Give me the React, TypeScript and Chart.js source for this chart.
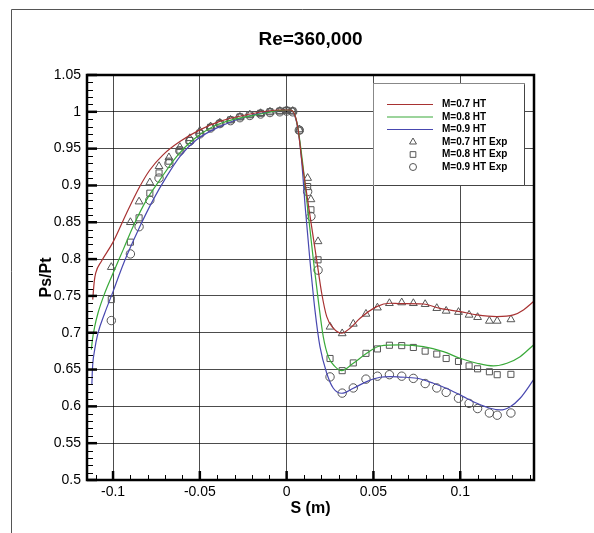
import React, { useEffect, useRef } from 'react';
import { Chart, registerables } from 'chart.js';

Chart.register(...registerables);

// ---- Data ----
const titleText = 'Re=360,000';
const xTicks = [-0.1, -0.05, 0, 0.05, 0.1];
const yTicks = [0.5, 0.55, 0.6, 0.65, 0.7, 0.75, 0.8, 0.85, 0.9, 0.95, 1.0, 1.05];

const ht07S = [-0.1117, -0.1108, -0.11, -0.1067, -0.1, -0.0923, -0.0846, -0.0788, -0.0712, -0.0615, -0.05, -0.0385, -0.023, -0.004, 0.002, 0.0045, 0.0065, 0.0087, 0.0115, 0.0144, 0.0173, 0.0202, 0.0231, 0.0269, 0.0317, 0.0365, 0.0423, 0.0519, 0.0596, 0.0654, 0.0788, 0.0884, 0.0999, 0.1096, 0.1211, 0.1307, 0.1364, 0.1422];
const ht07P = [0.745, 0.77, 0.781, 0.797, 0.823, 0.862, 0.8985, 0.921, 0.9416, 0.9596, 0.9755, 0.987, 0.996, 1.0025, 1.0025, 0.997, 0.978, 0.935, 0.89, 0.844, 0.799, 0.7536, 0.7218, 0.7061, 0.6993, 0.7061, 0.7197, 0.7355, 0.74, 0.7395, 0.739, 0.733, 0.7287, 0.7242, 0.7219, 0.7242, 0.731, 0.7423];

const ht08S = [-0.1125, -0.1119, -0.1106, -0.1087, -0.1048, -0.1, -0.0942, -0.0885, -0.0807, -0.073, -0.0634, -0.0539, -0.0423, -0.03, -0.015, -0.004, 0.002, 0.0045, 0.0065, 0.009, 0.0122, 0.0154, 0.0182, 0.0211, 0.024, 0.0279, 0.0317, 0.0384, 0.0461, 0.0538, 0.0654, 0.0788, 0.0903, 0.0999, 0.1096, 0.1191, 0.1269, 0.1345, 0.1422];
const ht08P = [0.677, 0.69, 0.708, 0.7265, 0.7537, 0.7808, 0.8125, 0.844, 0.8804, 0.9076, 0.9393, 0.962, 0.98, 0.99, 0.997, 1.002, 1.0025, 0.997, 0.978, 0.935, 0.867, 0.799, 0.7446, 0.6947, 0.6675, 0.654, 0.6485, 0.6585, 0.6721, 0.682, 0.6834, 0.6811, 0.6743, 0.6653, 0.6586, 0.6549, 0.6586, 0.6675, 0.6834];

const ht09S = [-0.1122, -0.1119, -0.1106, -0.1087, -0.1048, -0.1, -0.0961, -0.0923, -0.0846, -0.0769, -0.0692, -0.0615, -0.0519, -0.0385, -0.023, -0.004, 0.002, 0.0045, 0.0065, 0.0086, 0.0108, 0.0134, 0.0163, 0.0192, 0.0231, 0.0269, 0.0317, 0.0384, 0.0461, 0.0538, 0.0596, 0.0654, 0.075, 0.0845, 0.0942, 0.1018, 0.1096, 0.1172, 0.123, 0.1288, 0.1345, 0.1422];
const ht09P = [0.629, 0.6495, 0.6766, 0.6993, 0.7265, 0.7558, 0.7808, 0.8034, 0.844, 0.8804, 0.912, 0.9393, 0.962, 0.98, 0.9936, 1.0018, 1.0025, 0.996, 0.977, 0.935, 0.868, 0.799, 0.731, 0.681, 0.645, 0.6246, 0.6178, 0.6246, 0.6336, 0.6395, 0.6404, 0.6398, 0.6382, 0.6314, 0.6223, 0.6132, 0.6042, 0.5974, 0.5951, 0.5996, 0.611, 0.6359];

const expS = [-0.101, -0.09, -0.085, -0.0788, -0.0735, -0.0678, -0.0615, -0.0558, -0.05, -0.0438, -0.0385, -0.0323, -0.0269, -0.0212, -0.015, -0.0096, -0.0039, 0.0, 0.0035, 0.0073, 0.0121, 0.014, 0.0181, 0.025, 0.032, 0.0384, 0.0457, 0.0523, 0.0592, 0.0663, 0.073, 0.0798, 0.0865, 0.0919, 0.099, 0.1051, 0.11, 0.1168, 0.1213, 0.1292];
const exp07P = [0.789, 0.85, 0.878, 0.904, 0.926, 0.938, 0.952, 0.964, 0.974, 0.98, 0.985, 0.989, 0.993, 0.996, 0.998, 1.0, 1.001, 1.002, 1.001, 0.976, 0.91, 0.881, 0.824, 0.708, 0.699, 0.712, 0.7255, 0.734, 0.74, 0.741, 0.74, 0.7387, 0.7333, 0.7296, 0.728, 0.7242, 0.721, 0.716, 0.716, 0.718];
const exp08P = [0.745, 0.823, 0.856, 0.8895, 0.917, 0.933, 0.948, 0.961, 0.971, 0.979, 0.984, 0.989, 0.993, 0.996, 0.998, 1.0, 1.001, 1.002, 1.001, 0.975, 0.8985, 0.867, 0.799, 0.665, 0.6485, 0.659, 0.672, 0.678, 0.683, 0.6825, 0.68, 0.675, 0.671, 0.665, 0.661, 0.655, 0.651, 0.647, 0.643, 0.6435];
const exp09P = [0.7165, 0.807, 0.844, 0.88, 0.91, 0.93, 0.947, 0.96, 0.97, 0.978, 0.984, 0.988, 0.992, 0.995, 0.997, 0.999, 1.0, 1.001, 1.0, 0.975, 0.8917, 0.858, 0.785, 0.64, 0.618, 0.625, 0.637, 0.641, 0.643, 0.641, 0.638, 0.631, 0.625, 0.619, 0.611, 0.604, 0.597, 0.591, 0.588, 0.591];

const seriesLabels = ['M=0.7 HT', 'M=0.8 HT', 'M=0.9 HT', 'M=0.7 HT Exp', 'M=0.8 HT Exp', 'M=0.9 HT Exp'];

const FONT = "'Liberation Sans', Arial, Helvetica, sans-serif";
const fmt = (v: number) => String(Number(Number(v).toFixed(3)));
const pts = (xs: number[], ys: number[]) => xs.map((x, i) => ({ x, y: ys[i] }));

function drawMarker(ctx: CanvasRenderingContext2D, style: string, x: number, y: number, r: number) {
  ctx.beginPath();
  if (style === 'triangle') {
    for (let k = 0; k < 3; k++) {
      const a = (k * 2 * Math.PI) / 3;
      const px = x + Math.sin(a) * r;
      const py = y - Math.cos(a) * r;
      if (k === 0) ctx.moveTo(px, py); else ctx.lineTo(px, py);
    }
    ctx.closePath();
  } else if (style === 'rect') {
    const s = Math.SQRT1_2 * r;
    ctx.rect(x - s, y - s, 2 * s, 2 * s);
  } else {
    ctx.arc(x, y, r, 0, Math.PI * 2);
  }
  ctx.stroke();
}

const decorPlugin = {
  id: 'decor',
  beforeDraw(chart: any) {
    const { ctx, width, height } = chart;
    ctx.save();
    ctx.fillStyle = '#fff';
    ctx.fillRect(0, 0, width, height);
    ctx.strokeStyle = '#555';
    ctx.lineWidth = 1;
    ctx.beginPath();
    ctx.moveTo(11.5, height);
    ctx.lineTo(11.5, 9.5);
    ctx.lineTo(width, 9.5);
    ctx.stroke();
    ctx.restore();
  },
  afterDatasetsDraw(chart: any) {
    const { ctx, chartArea } = chart;
    const { left, right, top, bottom } = chartArea;
    const xs = chart.scales.x;
    const ys = chart.scales.y;
    ctx.save();
    ctx.strokeStyle = '#000';
    // minor ticks y (every 0.01)
    ctx.lineWidth = 1;
    for (let k = 50; k <= 105; k++) {
      if (k % 5 === 0) continue;
      const py = Math.round(ys.getPixelForValue(k / 100)) + 0.5;
      ctx.beginPath(); ctx.moveTo(left, py); ctx.lineTo(left + 6, py); ctx.stroke();
    }
    for (let k = -11; k <= 14; k++) {
      if (k % 5 === 0) continue;
      const px = Math.round(xs.getPixelForValue(k / 100)) + 0.5;
      ctx.beginPath(); ctx.moveTo(px, bottom); ctx.lineTo(px, bottom - 5); ctx.stroke();
    }
    // major ticks
    ctx.lineWidth = 2.5;
    yTicks.forEach((v) => {
      const py = ys.getPixelForValue(v);
      ctx.beginPath(); ctx.moveTo(left, py); ctx.lineTo(left + 10, py); ctx.stroke();
    });
    xTicks.forEach((v) => {
      const px = xs.getPixelForValue(v);
      ctx.beginPath(); ctx.moveTo(px, bottom); ctx.lineTo(px, bottom - 9); ctx.stroke();
    });
    // plot frame
    ctx.lineWidth = 2.5;
    ctx.strokeRect(left, top, right - left, bottom - top);

    // legend box
    const lx = 373.5, ly = 83.5, lw = 151, lh = 102;
    ctx.fillStyle = '#fff';
    ctx.fillRect(lx, ly, lw, lh);
    ctx.lineWidth = 1;
    ctx.strokeStyle = '#888';
    ctx.strokeRect(lx, ly, lw, lh);
    ctx.strokeStyle = '#444';
    ctx.beginPath();
    ctx.moveTo(lx + lw, ly + 1); ctx.lineTo(lx + lw, ly + lh); ctx.lineTo(lx + 1, ly + lh);
    ctx.stroke();
    ctx.font = `bold 10px ${FONT}`;
    ctx.textBaseline = 'middle';
    ctx.textAlign = 'left';
    chart.data.datasets.forEach((ds: any, i: number) => {
      const y = 104.5 + i * 12.5;
      if (ds.showLine) {
        ctx.strokeStyle = ds.borderColor;
        ctx.lineWidth = 1.2;
        ctx.beginPath(); ctx.moveTo(387, y); ctx.lineTo(433, y); ctx.stroke();
      } else {
        ctx.strokeStyle = ds.borderColor;
        ctx.lineWidth = 1;
        drawMarker(ctx, ds.pointStyle, 413, y, ds.pointStyle === 'circle' ? 3.5 : 4);
      }
      ctx.fillStyle = '#000';
      ctx.fillText(ds.label, 442, y);
    });
    ctx.restore();
  },
};

export default function App() {
  const ref = useRef<HTMLCanvasElement | null>(null);
  useEffect(() => {
    if (!ref.current) return;
    Chart.defaults.font.family = FONT;
    const lineDs = (label: string, xs: number[], ysv: number[], color: string) => ({
      label,
      data: pts(xs, ysv),
      showLine: true,
      borderColor: color,
      backgroundColor: color,
      borderWidth: 1.2,
      pointRadius: 0,
      cubicInterpolationMode: 'monotone',
      fill: false,
    });
    const markDs = (label: string, ysv: number[], style: string, r: number) => ({
      label,
      data: pts(expS, ysv),
      showLine: false,
      pointStyle: style,
      pointRadius: r,
      pointBorderWidth: 1,
      borderColor: '#555',
      pointBorderColor: '#555',
      backgroundColor: 'rgba(0,0,0,0)',
      pointBackgroundColor: 'rgba(0,0,0,0)',
    });
    const chart = new Chart(ref.current, {
      type: 'scatter',
      data: {
        datasets: [
          lineDs(seriesLabels[0], ht07S, ht07P, '#a83232'),
          lineDs(seriesLabels[1], ht08S, ht08P, '#3aaa3a'),
          lineDs(seriesLabels[2], ht09S, ht09P, '#4848b0'),
          markDs(seriesLabels[3], exp07P, 'triangle', 4.5),
          markDs(seriesLabels[4], exp08P, 'rect', 4.3),
          markDs(seriesLabels[5], exp09P, 'circle', 4.2),
        ] as any,
      },
      options: {
        responsive: false,
        animation: false,
        layout: { padding: { left: 0, right: 60, top: 0, bottom: 0 } },
        plugins: {
          legend: { display: false },
          tooltip: { enabled: false },
          title: {
            display: true,
            text: titleText,
            fullSize: false,
            color: '#000',
            font: { size: 19, weight: 'bold', family: FONT },
            padding: { top: 28, bottom: 24.2 },
          },
        },
        scales: {
          x: {
            type: 'linear',
            min: -0.115,
            max: 0.1425,
            afterBuildTicks: (s: any) => { s.ticks = xTicks.map((v) => ({ value: v })); },
            afterFit: (s: any) => { s.height = 53; },
            ticks: { callback: (v: any) => fmt(v), color: '#000', font: { size: 14, family: FONT }, padding: 4, maxRotation: 0, autoSkip: false },
            grid: { color: 'rgba(0,0,0,0.7)', lineWidth: 1, drawTicks: false },
            border: { display: false },
            title: { display: true, text: 'S (m)', color: '#000', font: { size: 16, weight: 'bold', family: FONT }, padding: { top: 0, bottom: 15 } },
          },
          y: {
            type: 'linear',
            min: 0.5,
            max: 1.05,
            afterBuildTicks: (s: any) => { s.ticks = yTicks.map((v) => ({ value: v })); },
            afterFit: (s: any) => { s.width = 87; },
            ticks: { callback: (v: any) => fmt(v), color: '#000', font: { size: 14, family: FONT }, padding: 6, autoSkip: false },
            grid: { color: 'rgba(0,0,0,0.7)', lineWidth: 1, drawTicks: false },
            border: { display: false },
            title: { display: true, text: 'Ps/Pt', color: '#000', font: { size: 16, weight: 'bold', family: FONT }, padding: { top: 37, bottom: 0 } },
          },
        },
      } as any,
      plugins: [decorPlugin],
    });
    return () => chart.destroy();
  }, []);
  return (
    <canvas
      ref={ref}
      width={594}
      height={533}
      style={{ position: 'fixed', left: 0, top: 0, width: 594, height: 533, display: 'block' }}
    />
  );
}
